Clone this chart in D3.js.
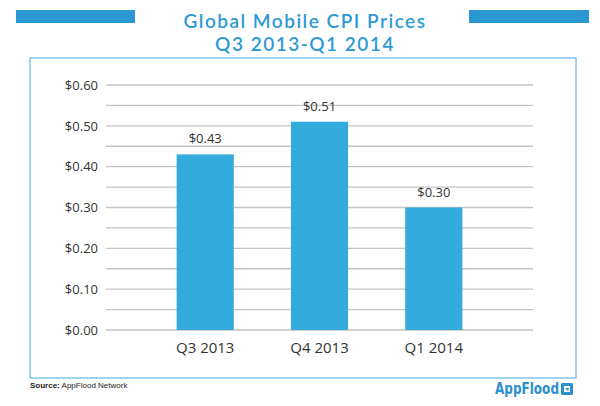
<!DOCTYPE html>
<html><head><meta charset="utf-8">
<script src="https://cdn.jsdelivr.net/npm/d3@7"></script>
<style>body{margin:0;background:#fff}svg{display:block}</style>
</head><body>
<svg id="c" width="600" height="406"></svg>
<script>
const categories = ["Q3 2013", "Q4 2013", "Q1 2014"];
const values = [0.43, 0.51, 0.30];
const tickValues = [0, 0.1, 0.2, 0.3, 0.4, 0.5, 0.6];
const gridValues = [0, 0.05, 0.1, 0.15, 0.2, 0.25, 0.3, 0.35, 0.4, 0.45, 0.5, 0.55, 0.6];
const titleLines = ["Global Mobile CPI Prices", "Q3 2013-Q1 2014"];

const svg = d3.select("#c");
const blue = "#2d9ad6";
const font = "'Open Sans', Lato, sans-serif";
const fmt = d => "$" + d3.format(".2f")(d);

// header bars
svg.append("rect").attr("x",16).attr("y",10).attr("width",119).attr("height",13).attr("fill","#2a96d2");
svg.append("rect").attr("x",469).attr("y",10).attr("width",120).attr("height",13).attr("fill","#2a96d2");
const title = svg.append("text").attr("text-anchor","middle").attr("fill",blue)
  .style("font-family","Lato, 'Open Sans', sans-serif").style("font-size","19px")
  .style("font-weight","600").style("letter-spacing","1.5px");
title.selectAll("tspan").data(titleLines).join("tspan")
  .attr("x",305).attr("y",(d,i)=>28+i*23).text(d=>d);

// frame
svg.append("rect").attr("x",30).attr("y",58).attr("width",546).attr("height",320)
  .attr("fill","none").attr("stroke","#5fb6e6").attr("stroke-width",1.2);

const y = d3.scaleLinear().domain([0,0.6]).range([330,85]);
const x = d3.scaleBand().domain(categories).range([119.5,519.5]).paddingInner(0.5).paddingOuter(0.5);

// grid
svg.append("g").selectAll("line").data(gridValues).join("line")
  .attr("x1",106).attr("x2",533).attr("y1",d=>y(d)).attr("y2",d=>y(d))
  .attr("stroke","#c4c4c4").attr("stroke-width",1.3);

// y axis labels
const ya = svg.append("g").attr("transform","translate(106,0)")
  .call(d3.axisLeft(y).tickValues(tickValues).tickFormat(fmt).tickSize(0).tickPadding(8));
ya.select(".domain").remove();
ya.selectAll("text").style("font-family",font).style("font-size","13px").attr("fill","#333");

// bars
svg.append("g").selectAll("rect").data(values).join("rect")
  .attr("x",(d,i)=>x(categories[i])).attr("width",x.bandwidth())
  .attr("y",d=>y(d)).attr("height",d=>y(0)-y(d)).attr("fill","#33abdc");

// value labels
svg.append("g").selectAll("text").data(values).join("text")
  .attr("x",(d,i)=>x(categories[i])+x.bandwidth()/2).attr("y",d=>y(d)-11)
  .attr("text-anchor","middle").attr("fill","#333")
  .style("font-family",font).style("font-size","13px").text(fmt);

// x axis
const xa = svg.append("g").attr("transform","translate(0,330)")
  .call(d3.axisBottom(x).tickSize(0).tickPadding(12));
xa.select(".domain").remove();
xa.selectAll("text").style("font-family",font).style("font-size","15px").attr("fill","#333");

// source
const src = svg.append("text").attr("x",30).attr("y",388)
  .style("font-family","'Liberation Sans', Arial, sans-serif").style("font-size","8px").attr("fill","#222");
src.append("tspan").style("font-weight","bold").text("Source:");
src.append("tspan").text(" AppFlood Network");

// logo
svg.append("text").attr("x",559).attr("y",394).attr("text-anchor","end")
  .attr("textLength",64).attr("lengthAdjust","spacingAndGlyphs")
  .attr("fill","#2b8fd0").style("font-family","'DejaVu Sans', sans-serif").style("font-weight","bold")
  .style("font-size","15px").text("AppFlood");
svg.append("rect").attr("x",561).attr("y",383).attr("width",12).attr("height",12).attr("rx",1.5).attr("fill","#2b8fd0");
svg.append("path").attr("d","M564,386 h6 v6 h-6 z").attr("fill","#fff");
svg.append("path").attr("d","M565,388 l3,3 l1,-3 z").attr("fill","#2b8fd0");
</script>
</body></html>
